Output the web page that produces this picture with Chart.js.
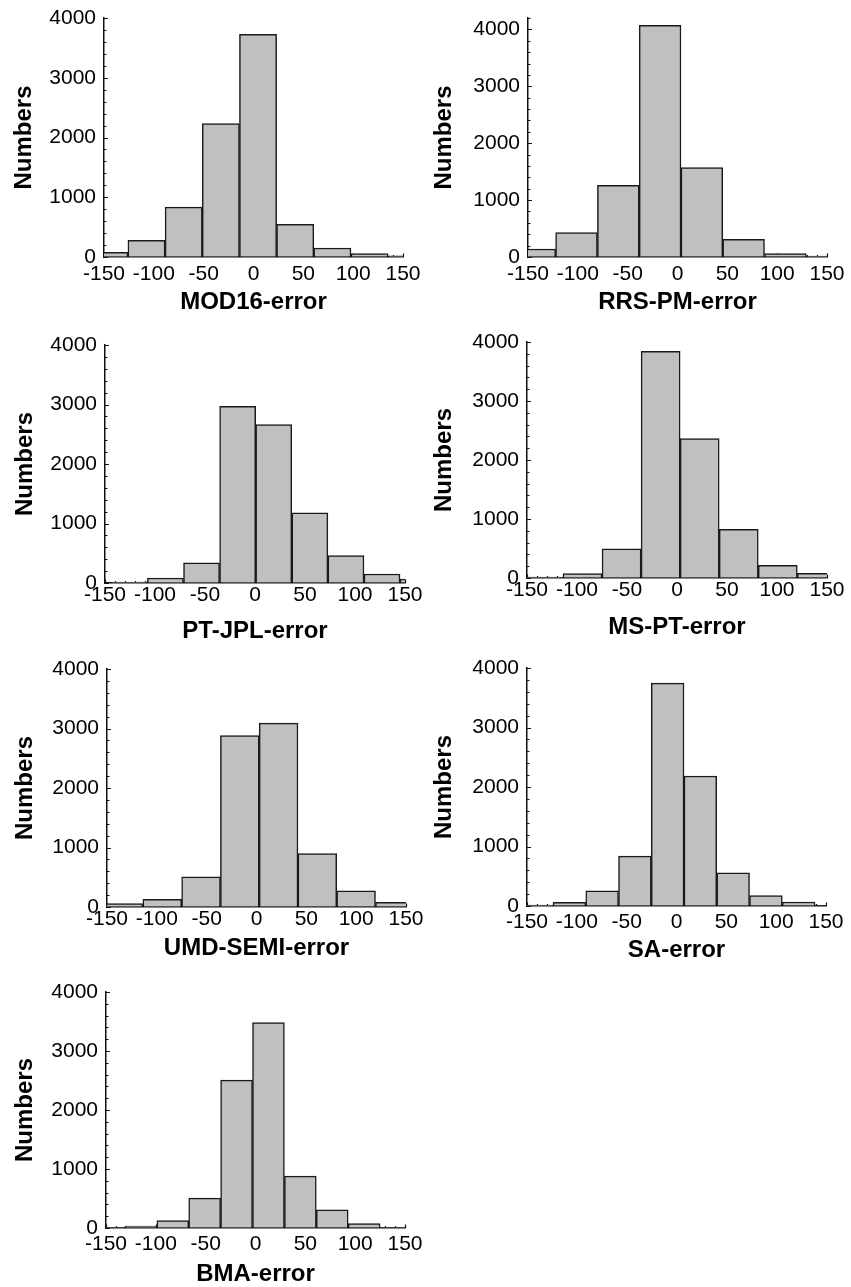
<!DOCTYPE html>
<html>
<head>
<meta charset="utf-8">
<script src="https://cdn.jsdelivr.net/npm/chart.js@4.4.1/dist/chart.umd.min.js"></script>
<style>
html,body{margin:0;padding:0;background:#fff;}
body{position:relative;width:851px;height:1287px;overflow:hidden;}
canvas{position:absolute;}
</style>
</head>
<body>
<canvas id="p1"></canvas>
<canvas id="p2"></canvas>
<canvas id="p3"></canvas>
<canvas id="p4"></canvas>
<canvas id="p5"></canvas>
<canvas id="p6"></canvas>
<canvas id="p7"></canvas>
<script>
// ---------- data ----------
const xTickValues = [-150, -100, -50, 0, 50, 100, 150];
const yTickValues = [0, 1000, 2000, 3000, 4000];
const yAxisTitle = "Numbers";

const mod16Title = "MOD16-error";
const mod16Edges = [-163.3, -126, -88.7, -51.4, -14.1, 23.2, 60.5, 97.8, 135.1, 172.4];
const mod16Counts = [80, 280, 834, 2232, 3726, 548, 151, 56, 20];

const rrsTitle = "RRS-PM-error";
const rrsEdges = [-164.2, -122.3, -80.4, -38.4, 3.5, 45.4, 87.3, 129.3, 171.2];
const rrsCounts = [141, 428, 1261, 4070, 1572, 311, 59, 15];

const ptjplTitle = "PT-JPL-error";
const ptjplEdges = [-143.7, -107.6, -71.5, -35.4, 0.7, 36.8, 72.9, 109.0, 145.0, 181.1];
const ptjplCounts = [15, 84, 341, 2970, 2663, 1180, 459, 151, 67];

const msptTitle = "MS-PT-error";
const msptEdges = [-153.05, -114, -74.95, -35.9, 3.15, 42.2, 81.25, 120.3, 159.35];
const msptCounts = [15, 73, 496, 3842, 2361, 823, 214, 79];

const umdTitle = "UMD-SEMI-error";
const umdEdges = [-152.9, -114, -75.1, -36.2, 2.7, 41.6, 80.5, 119.4, 158.3];
const umdCounts = [56, 129, 506, 2882, 3090, 899, 270, 79];

const saTitle = "SA-error";
const saEdges = [-156.8, -123.9, -91.0, -58.2, -25.3, 7.5, 40.4, 73.3, 106.1, 139.0, 171.9];
const saCounts = [15, 62, 253, 837, 3747, 2185, 556, 174, 67, 8];

const bmaTitle = "BMA-error";
const bmaEdges = [-163, -131, -99, -67, -35, -3, 29, 61, 93, 125, 157];
const bmaCounts = [10, 34, 124, 507, 2507, 3482, 879, 310, 73, 10];

// ---------- rendering ----------
const FONT = "'Liberation Sans', Arial, Helvetica, sans-serif";
Chart.defaults.color = '#000';

const axisTicks = {
  id: 'axisTicks',
  beforeDatasetsDraw(chart) {
    const {ctx, chartArea, scales} = chart;
    const x = scales.x, y = scales.y;
    ctx.save();
    ctx.strokeStyle = '#111';
    ctx.lineWidth = 1.2;
    ctx.beginPath();
    for (let v = 0; v <= y.max + 1e-6; v += 200) {
      const py = Math.round(y.getPixelForValue(v)) + 0.5;
      const len = (v % 1000 === 0) ? 4 : 2.5;
      ctx.moveTo(chartArea.left, py);
      ctx.lineTo(chartArea.left + len, py);
    }
    for (let v = x.min; v <= x.max + 1e-6; v += 10) {
      const px = Math.round(x.getPixelForValue(v)) + 0.5;
      const len = (v % 50 === 0) ? 3.5 : 2;
      ctx.moveTo(px, chartArea.bottom);
      ctx.lineTo(px, chartArea.bottom - len);
    }
    ctx.stroke();
    ctx.restore();
  }
};

function makePanel(id, edges, counts, xTitle, yMax, L) {
  const canvas = document.getElementById(id);
  canvas.width = L.w; canvas.height = L.h;
  canvas.style.left = L.cx + 'px'; canvas.style.top = L.cy + 'px';
  canvas.style.width = L.w + 'px'; canvas.style.height = L.h + 'px';
  const area = {l: L.l - L.cx, r: L.r - L.cx, t: L.t - L.cy, b: L.b - L.cy};
  const titleY = L.titleY - L.cy;
  const numbersX = L.numbersX - L.cx;
  const half = 24 * 1.2 / 2;
  const tickPad = Math.max(0, L.tickOffset - 21 * 1.2 / 2);
  const points = counts.map((c, i) => ({x: (edges[i] + edges[i + 1]) / 2, y: c}));

  new Chart(canvas, {
    type: 'bar',
    data: {
      datasets: [{
        data: points,
        backgroundColor: '#c0c0c0',
        borderColor: '#1a1a1a',
        borderWidth: 1.5,
        borderSkipped: 'bottom',
        barPercentage: 1,
        categoryPercentage: 1,
        clip: 0
      }]
    },
    options: {
      responsive: false,
      animation: false,
      devicePixelRatio: 1,
      layout: {padding: {left: 0, top: area.t, right: L.w - area.r, bottom: 0}},
      plugins: {legend: {display: false}, tooltip: {enabled: false}},
      scales: {
        x: {
          type: 'linear', min: -150, max: 150, offset: false, z: 1,
          afterBuildTicks: s => { s.ticks = xTickValues.map(v => ({value: v})); },
          afterFit: s => { s.height = L.h - area.b; s.paddingLeft = 0; s.paddingRight = 0; },
          grid: {display: true, drawOnChartArea: false, drawTicks: false, offset: false},
          border: {display: true, color: '#111', width: 1.5},
          ticks: {color: '#000', font: {family: FONT, size: 21}, padding: tickPad, maxRotation: 0, autoSkip: false,
                  callback: v => String(v)},
          title: {display: true, text: xTitle, color: '#000',
                  font: {family: FONT, size: 24, weight: 'bold', lineHeight: 1.2},
                  padding: {top: 0, bottom: L.h - titleY - half}}
        },
        y: {
          type: 'linear', min: 0, max: yMax, z: 1,
          afterBuildTicks: s => { s.ticks = yTickValues.map(v => ({value: v})); },
          afterFit: s => { s.width = area.l; s.paddingTop = 0; s.paddingBottom = 0; },
          grid: {display: true, drawOnChartArea: false, drawTicks: false},
          border: {display: true, color: '#111', width: 1.5},
          ticks: {color: '#000', font: {family: FONT, size: 21}, padding: 8, callback: v => String(v)},
          title: {display: true, text: yAxisTitle, color: '#000',
                  font: {family: FONT, size: 24, weight: 'bold', lineHeight: 1.2},
                  padding: {top: numbersX - half, bottom: 0}}
        }
      }
    },
    plugins: [axisTicks]
  });
}

makePanel('p1', mod16Edges, mod16Counts, mod16Title, 4000,
  {cx: 0, cy: 0, w: 425, h: 330, l: 104, t: 18, r: 403, b: 257, titleY: 302, numbersX: 24, tickOffset: 17});
makePanel('p2', rrsEdges, rrsCounts, rrsTitle, 4200,
  {cx: 425, cy: 0, w: 426, h: 330, l: 528, t: 18, r: 827, b: 257, titleY: 302, numbersX: 444, tickOffset: 17});
makePanel('p3', ptjplEdges, ptjplCounts, ptjplTitle, 4000,
  {cx: 0, cy: 320, w: 425, h: 330, l: 105, t: 345, r: 405, b: 583, titleY: 631, numbersX: 25, tickOffset: 12});
makePanel('p4', msptEdges, msptCounts, msptTitle, 4000,
  {cx: 425, cy: 320, w: 426, h: 330, l: 527, t: 342, r: 827, b: 578, titleY: 627, numbersX: 444, tickOffset: 12});
makePanel('p5', umdEdges, umdCounts, umdTitle, 4000,
  {cx: 0, cy: 630, w: 425, h: 340, l: 107, t: 669, r: 406, b: 907, titleY: 948, numbersX: 25, tickOffset: 12});
makePanel('p6', saEdges, saCounts, saTitle, 4000,
  {cx: 425, cy: 630, w: 426, h: 340, l: 527, t: 668, r: 826, b: 906, titleY: 950, numbersX: 444, tickOffset: 16});
makePanel('p7', bmaEdges, bmaCounts, bmaTitle, 4000,
  {cx: 0, cy: 950, w: 425, h: 340, l: 106, t: 992, r: 405, b: 1228, titleY: 1274, numbersX: 25, tickOffset: 16});
</script>
</body>
</html>
